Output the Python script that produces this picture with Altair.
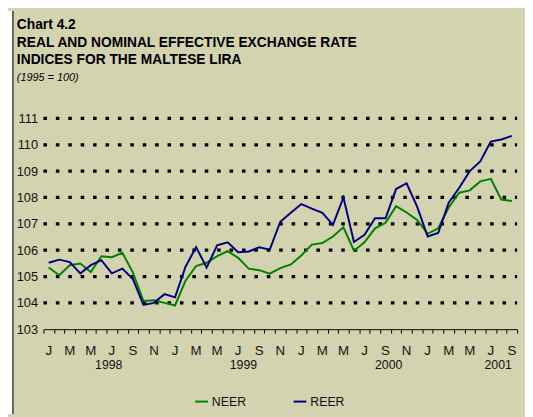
import altair as alt
import pandas as pd

# ---- data ----
month_index = list(range(45))  # Jan 1998 .. Sep 2001
neer = [105.34, 105.05, 105.43, 105.49, 105.17, 105.77, 105.73, 105.90, 105.15, 104.07, 104.10, 104.00,
        103.90, 104.84, 105.40, 105.52, 105.77, 105.96, 105.71, 105.30, 105.24, 105.11, 105.32,
        105.46, 105.80, 106.21, 106.27, 106.52, 106.87, 105.98, 106.30, 106.83, 107.04, 107.67,
        107.43, 107.15, 106.62, 106.83, 107.62, 108.18, 108.27, 108.61, 108.71, 107.92, 107.87]
reer = [105.52, 105.64, 105.55, 105.12, 105.43, 105.62, 105.12, 105.30, 104.90, 103.92, 104.00, 104.33,
        104.21, 105.37, 106.12, 105.34, 106.18, 106.30, 105.92, 105.95, 106.11, 106.02, 107.08,
        107.42, 107.75, 107.58, 107.42, 106.96, 108.00, 106.31, 106.58, 107.21, 107.21, 108.32,
        108.54, 107.65, 106.52, 106.65, 107.80, 108.37, 109.00, 109.37, 110.12, 110.20, 110.34]
series_names = ["NEER", "REER"]
series_colors = ["#008000", "#000080"]
month_letters = ["J", "M", "M", "J", "S", "N"]
year_labels = ["1998", "1999", "2000", "2001"]
year_label_at = [5.7, 18.5, 32.3, 42.7]
y_ticks = [103, 104, 105, 106, 107, 108, 109, 110, 111]
title_lines = ["Chart 4.2", "REAL AND NOMINAL EFFECTIVE EXCHANGE RATE", "INDICES FOR THE MALTESE LIRA"]
subtitle = "(1995 = 100)"

# ---- tables ----
df = pd.DataFrame({
    "m": month_index * 2,
    "value": neer + reer,
    "series": ["NEER"] * len(neer) + ["REER"] * len(reer),
})
mlab = pd.DataFrame({"m": month_index[::2],
                     "lab": [month_letters[k % 6] for k in range(len(month_index[::2]))]})
ylab = pd.DataFrame({"m": year_label_at, "lab": year_labels})
grid = pd.DataFrame({"v": y_ticks[1:]})

FONT = "Liberation Sans, Arial, sans-serif"
TAN = "#d3d3b0"
INK = "#111111"
W, H = 481, 214

xs = alt.Scale(domain=[-0.5, 44.5], nice=False, zero=False)
ys = alt.Scale(domain=[103, 111], nice=False, zero=False)
one = alt.Data(values=[{}])

x_axis = alt.Axis(values=[i - 0.5 for i in range(46)], labels=False, title=None,
                  grid=False, tickSize=4, tickColor="black", domainColor="black",
                  domainWidth=1, tickWidth=1)
y_axis = alt.Axis(values=y_ticks, title=None, grid=False, ticks=False, domain=False,
                  labelFont=FONT, labelFontSize=13, labelColor=INK, labelOverlap=False,
                  labelPadding=6, format="d")

left_strip = alt.Chart(one).mark_rect(fill="white").encode(
    x=alt.value(-36), x2=alt.value(-31), y=alt.value(-109), y2=alt.value(300))
left_border = alt.Chart(one).mark_rule(color="#3a3a3a", strokeWidth=1.5).encode(
    x=alt.value(-31), y=alt.value(-109), y2=alt.value(300))

gridlines = alt.Chart(grid).mark_rule(color="black", strokeWidth=3.3, strokeDash=[3.6, 9]).encode(
    y=alt.Y("v:Q", scale=ys, axis=y_axis),
    x=alt.value(0), x2=alt.value(W))

lines = alt.Chart(df).mark_line(strokeWidth=2).encode(
    x=alt.X("m:Q", scale=xs, axis=x_axis),
    y=alt.Y("value:Q", scale=ys, axis=y_axis),
    color=alt.Color("series:N", scale=alt.Scale(domain=series_names, range=series_colors),
                    legend=alt.Legend(title=None, orient="none", legendX=153, legendY=280,
                                      direction="horizontal", symbolType="stroke",
                                      symbolStrokeWidth=2, symbolSize=169, labelOffset=3,
                                      columnPadding=44, labelFont=FONT, labelFontSize=12.5,
                                      labelColor=INK)),
)

months_txt = alt.Chart(mlab).mark_text(font=FONT, fontSize=13.5, color=INK, baseline="middle").encode(
    x=alt.X("m:Q", scale=xs, axis=x_axis), y=alt.value(H + 22), text="lab:N")
years_txt = alt.Chart(ylab).mark_text(font=FONT, fontSize=12.5, color=INK, baseline="middle").encode(
    x=alt.X("m:Q", scale=xs, axis=x_axis), y=alt.value(H + 36), text="lab:N")

title_layers = []
for k, (line, yy) in enumerate(zip(title_lines, [-91, -73, -55])):
    title_layers.append(
        alt.Chart(one).mark_text(font=FONT, fontSize=14, fontWeight="bold", color="#000",
                                 align="left", baseline="alphabetic", text=line)
        .encode(x=alt.value(-27), y=alt.value(yy)))
title_layers.append(
    alt.Chart(one).mark_text(font=FONT, fontSize=11, fontStyle="italic", color="#000",
                             align="left", baseline="alphabetic", text=subtitle)
    .encode(x=alt.value(-27), y=alt.value(-38)))

chart = alt.layer(left_strip, left_border, gridlines, lines, months_txt, years_txt,
                  *title_layers).properties(
    width=W, height=H,
    autosize=alt.AutoSizeParams(type="none"),
    padding={"left": 36, "top": 109, "right": 8, "bottom": 86},
    background=TAN,
).configure_view(stroke=None)

chart.save("out.html", embed_options={"renderer": "svg", "actions": False})
